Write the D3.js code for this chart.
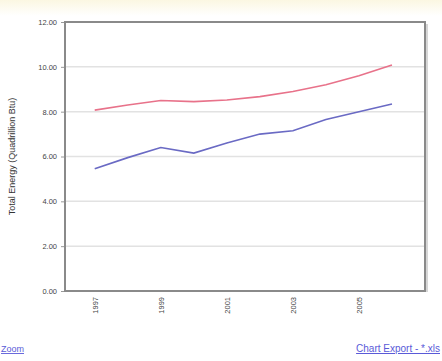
<!DOCTYPE html>
<html><head><meta charset="utf-8">
<script src="https://cdn.jsdelivr.net/npm/d3@7"></script>
<style>
html,body{margin:0;padding:0;background:#fff;}
svg{display:block;}
</style></head>
<body>
<script>
const years = [1997,1998,1999,2000,2001,2002,2003,2004,2005,2006];
const seriesRed = [8.07,8.30,8.50,8.45,8.52,8.67,8.90,9.20,9.60,10.08];
const seriesBlue = [5.45,5.95,6.40,6.15,6.60,7.00,7.15,7.65,8.00,8.34];
const yTicks = [0,2,4,6,8,10,12];
const xTickLabels = [1997,1999,2001,2003,2005];
const yTitle = "Total Energy (Quadrillion Btu)";

const W=442,H=361;
const svg=d3.select("body").append("svg").attr("width",W).attr("height",H);
const defs=svg.append("defs");
const g0=defs.append("linearGradient").attr("id","bg").attr("x1",0).attr("x2",0).attr("y1",0).attr("y2",1);
g0.append("stop").attr("offset","0").attr("stop-color","#fbf7e2");
g0.append("stop").attr("offset","1").attr("stop-color","#ffffff");
svg.append("rect").attr("width",W).attr("height",16).attr("fill","url(#bg)");

const L=65,T=22,R=425,B=291;
const x=d3.scaleLinear().domain([1996.1,2007]).range([L,R]);
const y=d3.scaleLinear().domain([0,12]).range([B,T]);
const font="Liberation Sans, Arial, sans-serif";

// gridlines
svg.append("g").selectAll("line").data(yTicks.filter(d=>d>0&&d<12)).join("line")
  .attr("x1",L).attr("x2",R).attr("y1",d=>y(d)).attr("y2",d=>y(d))
  .attr("stroke","#e2e2e2").attr("stroke-width",1.5);

// axes
const ya=svg.append("g").attr("transform",`translate(${L},0)`)
  .call(d3.axisLeft(y).tickValues(yTicks).tickFormat(d3.format(".2f")).tickSize(4));
ya.select(".domain").remove();
ya.selectAll("line").attr("stroke","#999");
ya.selectAll("text").attr("font-family",font).attr("font-size",7.5).attr("fill","#444").attr("dx",-1);

const xa=svg.append("g").attr("transform",`translate(0,${B})`)
  .call(d3.axisBottom(x).tickValues(xTickLabels).tickFormat(d3.format("d")).tickSize(0));
xa.select(".domain").remove();
xa.selectAll("text").attr("font-family",font).attr("font-size",7.5).attr("fill","#444")
  .attr("transform","rotate(-90)").attr("text-anchor","end").attr("x",-6).attr("y",0).attr("dy","0.32em");

// frame
svg.append("rect").attr("x",L).attr("y",T).attr("width",R-L).attr("height",B-T)
  .attr("fill","none").attr("stroke","#8a8a8a").attr("stroke-width",2);
svg.append("line").attr("x1",R+2).attr("x2",R+2).attr("y1",T+2).attr("y2",B+1).attr("stroke","#c8c8c8").attr("stroke-width",1.5);

// lines
const line=d3.line().x((d,i)=>x(years[i])).y(d=>y(d));
svg.append("path").datum(seriesRed).attr("d",line).attr("fill","none").attr("stroke","#e8728a").attr("stroke-width",1.6);
svg.append("path").datum(seriesBlue).attr("d",line).attr("fill","none").attr("stroke","#6a6ac4").attr("stroke-width",1.6);

// y title
svg.append("text").attr("transform",`translate(15,${(T+B)/2}) rotate(-90)`)
  .attr("text-anchor","middle").attr("font-family",font).attr("font-size",9).attr("fill","#333")
  .text(yTitle);

// links
svg.append("text").attr("x",1).attr("y",352).attr("font-family",font).attr("font-size",9)
  .attr("fill","#5a5ad8").attr("text-decoration","underline").text("Zoom");
svg.append("text").attr("x",W-2).attr("y",352).attr("text-anchor","end").attr("font-family",font).attr("font-size",10)
  .attr("fill","#5a5ad8").attr("text-decoration","underline").text("Chart Export - *.xls");
</script>
</body></html>
